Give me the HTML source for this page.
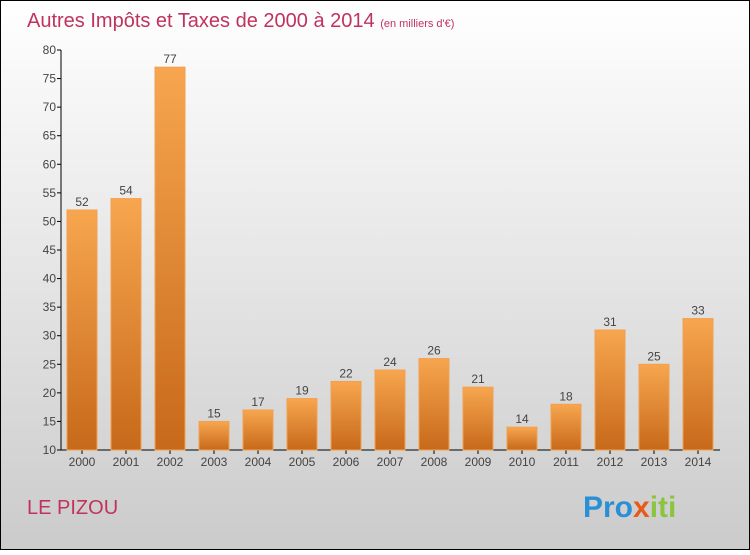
<!DOCTYPE html>
<html><head><meta charset="utf-8"><style>
body{margin:0;width:750px;height:550px;overflow:hidden;font-family:"Liberation Sans",sans-serif}
</style></head><body>
<svg width="750" height="550" xmlns="http://www.w3.org/2000/svg">
<defs>
<linearGradient id="bg" x1="0" y1="0" x2="0" y2="1"><stop offset="0" stop-color="#ffffff"/><stop offset="1" stop-color="#cbcbcb"/></linearGradient>
<linearGradient id="bar" x1="0" y1="0" x2="0" y2="1"><stop offset="0" stop-color="#f7a64f"/><stop offset="1" stop-color="#c7691a"/></linearGradient>
</defs>
<rect x="0.5" y="0.5" width="749" height="549" fill="url(#bg)" stroke="#000"/>
<text x="27" y="27" font-size="20" fill="#c0335f">Autres Impôts et Taxes de 2000 à 2014 <tspan font-size="11">(en milliers d'€)</tspan></text>
<g id="axes"></g>
<g id="bars"></g>
<text x="27" y="514" font-size="20" fill="#c0335f">LE PIZOU</text>
<text x="583" y="517" font-size="30" font-weight="bold"><tspan fill="#2b8fd6">Pro</tspan><tspan fill="#e85a1a">x</tspan><tspan fill="#8bc53f">iti</tspan></text>
</svg>
<script>
const years=["2000","2001","2002","2003","2004","2005","2006","2007","2008","2009","2010","2011","2012","2013","2014"];
const values=[52,54,77,15,17,19,22,24,26,21,14,18,31,25,33];
const yTicks=[10,15,20,25,30,35,40,45,50,55,60,65,70,75,80];
const NS="http://www.w3.org/2000/svg";
const y=v=>450-(v-10)*400/70;
const x=i=>82+i*44;
function mk(t,a,p){const e=document.createElementNS(NS,t);for(const k in a)e.setAttribute(k,a[k]);p.appendChild(e);return e;}
const ax=document.getElementById('axes'),bg=document.getElementById('bars');
let l=mk('line',{x1:61,y1:50,x2:61,y2:450,stroke:'#000'},ax);


l=mk('line',{x1:61,y1:450,x2:720,y2:450,stroke:'#000'},ax);


yTicks.forEach(v=>{
 const t=mk('line',{x1:57,y1:y(v),x2:61,y2:y(v),stroke:'#000'},ax);
 
 
 const tx=mk('text',{x:56,y:y(v)+4,'font-size':12,fill:'#444','text-anchor':'end'},ax);
 tx.textContent=v;
 
 
});
years.forEach((yr,i)=>{
 const r=mk('rect',{x:x(i)-15,y:y(values[i]),width:30,height:450-y(values[i]),fill:'url(#bar)',stroke:'#f4a050','stroke-width':1},bg);
 
 
 const vt=mk('text',{x:x(i),y:y(values[i])-4,'font-size':12,fill:'#444','text-anchor':'middle'},bg);
 vt.textContent=values[i];
 
 
 const tk=mk('line',{x1:x(i),y1:450,x2:x(i),y2:454,stroke:'#000'},ax);
 
 
 const xt=mk('text',{x:x(i),y:466,'font-size':12,fill:'#444','text-anchor':'middle'},ax);
 xt.textContent=yr;
 
 
});
</script>
</body></html>
